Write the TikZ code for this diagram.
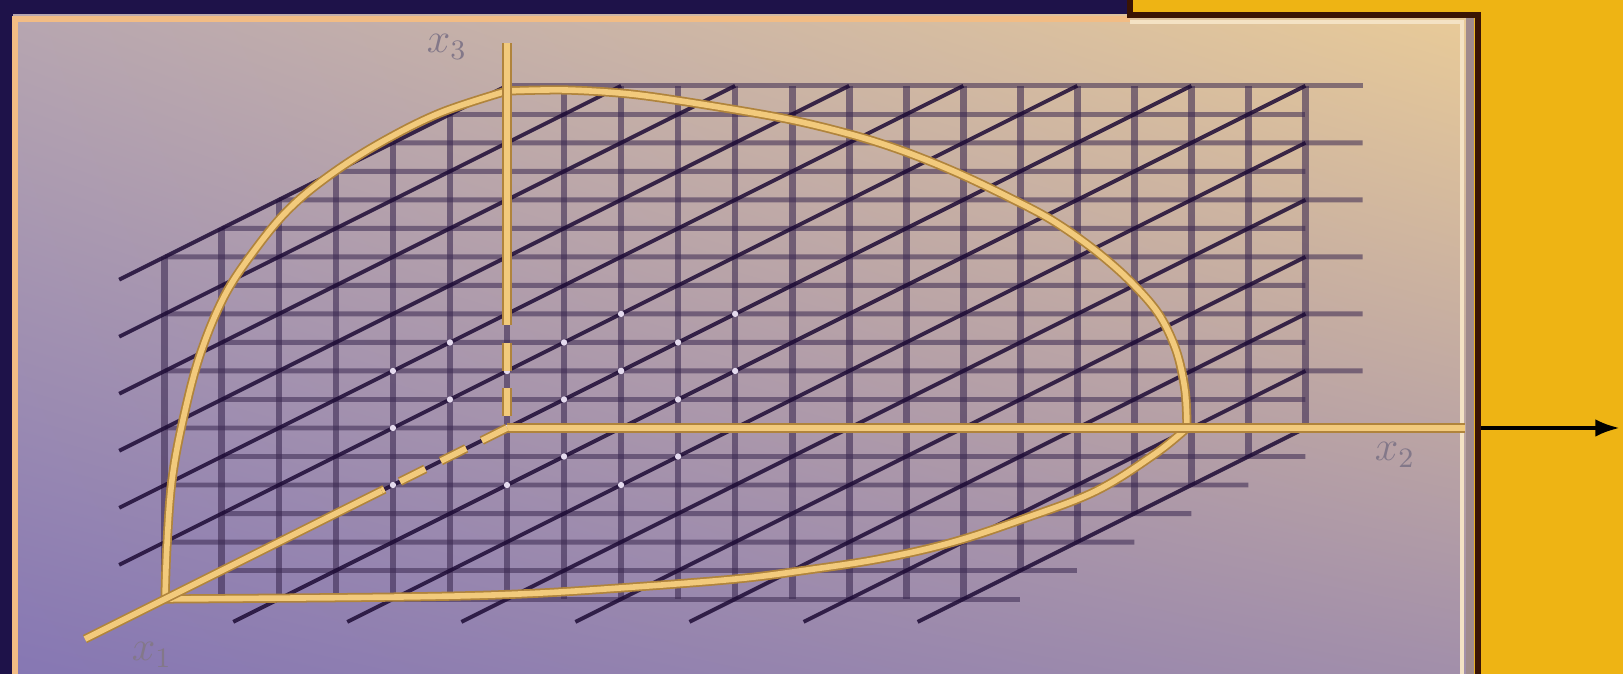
\documentclass[tikz,border=0pt]{standalone}
\usepackage{amsmath}
\usepackage{xcolor}
\usepackage{tikz}
\usetikzlibrary{arrows.meta, shadings}

\definecolor{navybg}{HTML}{1E1249}
\definecolor{goldband}{HTML}{EEB414}
\definecolor{framebrown}{HTML}{3A1404}
\definecolor{panelpeach}{HTML}{F2BC84}
\definecolor{panelcream}{HTML}{F4E2C4}
\definecolor{panelgrey}{HTML}{A08A8C}
\definecolor{panelmauve}{HTML}{B7A6B0}
\definecolor{paneltan}{HTML}{E9CB98}
\definecolor{panelpurple}{HTML}{8677B3}
\definecolor{panellilac}{HTML}{A28FAA}
\definecolor{gridline}{HTML}{3A2850}
\definecolor{diagline}{HTML}{1E0C36}
\definecolor{axisgold}{HTML}{F2CA7C}
\definecolor{axisedge}{HTML}{B0843C}
\definecolor{dotwhite}{HTML}{E4DAEE}
\definecolor{labelgrey}{HTML}{837889}

\begin{document}
\begin{tikzpicture}[
    x=0.01cm, y=-0.01cm,
    every node/.style={font=\large, text=labelgrey},
    vline/.style={draw=gridline, opacity=0.58, line width=1.9pt},
    hline/.style={draw=gridline, opacity=0.55, line width=1.4pt},
    dline/.style={draw=diagline, opacity=0.85, line width=1.1pt},
    goldline/.style={draw=axisedge, double=axisgold, double distance=1.6pt, line width=0.5pt},
    hiddenline/.style={goldline, dash pattern=on 8pt off 5pt},
    dot/.style={circle, fill=dotwhite, inner sep=0pt, minimum size=1.8pt}
  ]
  \useasboundingbox (0,0) rectangle (1623,674);

  % frame and panel
  \fill[navybg] (0,0) rectangle (1623,674);
  \fill[goldband] (1130,0) rectangle (1623,674);
  \shade[upper left=panelmauve, upper right=paneltan, lower left=panelpurple, lower right=panellilac]
    (13,15) rectangle (1474,674);
  \draw[panelpeach, line width=1.6pt] (15,674) -- (15,19) -- (1130,19);
  \draw[panelcream, line width=1.4pt] (1130,22) -- (1462,22) -- (1462,674);
  \fill[panelgrey] (1466,16) rectangle (1474,674);
  \draw[framebrown, line width=1.5pt] (1130,0) -- (1130,15) -- (1478,15) -- (1478,674);

  % lattice
  \coordinate (O) at (507,428);
  \begin{scope}[shift={(O)}, x={(-0.57cm,-0.285cm)}, y={(0.57cm,0cm)}, z={(0cm,0.57cm)}]
    \foreach \m in {-6,...,14}{
      \pgfmathtruncatemacro\ia{max(0,-(\m))}
      \pgfmathtruncatemacro\ib{min(6,14-(\m))}
      \draw[vline] (\ia,{\m+\ia},6) -- (\ib,{\m+\ib},0);
    }
    \foreach \n in {-12,...,6}{
      \pgfmathtruncatemacro\p{mod(\n+12,2)}
      \pgfmathtruncatemacro\ia{max(\n,\p)}
      \pgfmathtruncatemacro\ib{min(\n+12,6-\p)}
      \draw[hline] (\ib,0,{(\ib-(\n))/2}) -- (\ia,15,{(\ia-(\n))/2});
    }
    \foreach \q in {-6,...,7}{
      \pgfmathtruncatemacro\ka{max(0,-(\q))}
      \pgfmathtruncatemacro\kb{min(6,7-(\q))}
      \draw[dline] (6.8,{2*(\q)+2*\ka},\ka) -- (0,{2*(\q)+2*\kb},\kb);
    }
    \foreach \i in {0,1,2}
      \foreach \j in {0,2,4}
        \foreach \k in {0,1,2}
          \node[dot] (d\i\j\k) at (\i,\j,\k) {};

    \coordinate (x1mid) at (2.2,0,0);
    \coordinate (x1end) at (7.4,0,0);
    \coordinate (x2end) at (0,16.8,0);
    \coordinate (x3mid) at (0,0,2.3);
    \coordinate (x3end) at (0,0,6.75);
  \end{scope}

  % octant boundary
  \draw[goldline] plot[smooth, tension=0.6] coordinates {(165,599) (167,545) (172,480) (183,420)
    (200,355) (225,295) (257,247) (290,208) (330,175) (380,143) (440,113) (507,91)};
  \draw[goldline] plot[smooth, tension=0.55] coordinates {(507,91) (565,90) (630,94) (700,104)
    (787,119) (853,135) (903,151) (953,171) (1000,193) (1050,219) (1092,248) (1128,279)
    (1158,313) (1176,350) (1185,390) (1187,428)};
  \draw[goldline] plot[smooth, tension=0.6] coordinates {(1187,428) (1155,454) (1096,491)
    (1023,519) (950,543) (879,559) (807,570) (736,579) (620,588) (520,594)
    (400,597) (165,599)};

  % axes
  \draw[goldline] (x3end) -- (x3mid);
  \draw[hiddenline] (x3mid) -- (O);
  \draw[goldline] (O) -- (x2end);
  \draw[hiddenline] (O) -- (x1mid);
  \draw[goldline] (x1mid) -- (x1end);

  \coordinate (x2out) at (1481,428);
  \coordinate (x2tip) at (1620,428);
  \draw[-{Latex[length=7pt,width=5pt]}, line width=1.2pt, black] (x2out) -- (x2tip);

  \node (x3label) at (447,47) {$x_3$};
  \node (x2label) at (1395,455) {$x_2$};
  \node (x1label) at (152,655) {$x_1$};
\end{tikzpicture}
\end{document}
